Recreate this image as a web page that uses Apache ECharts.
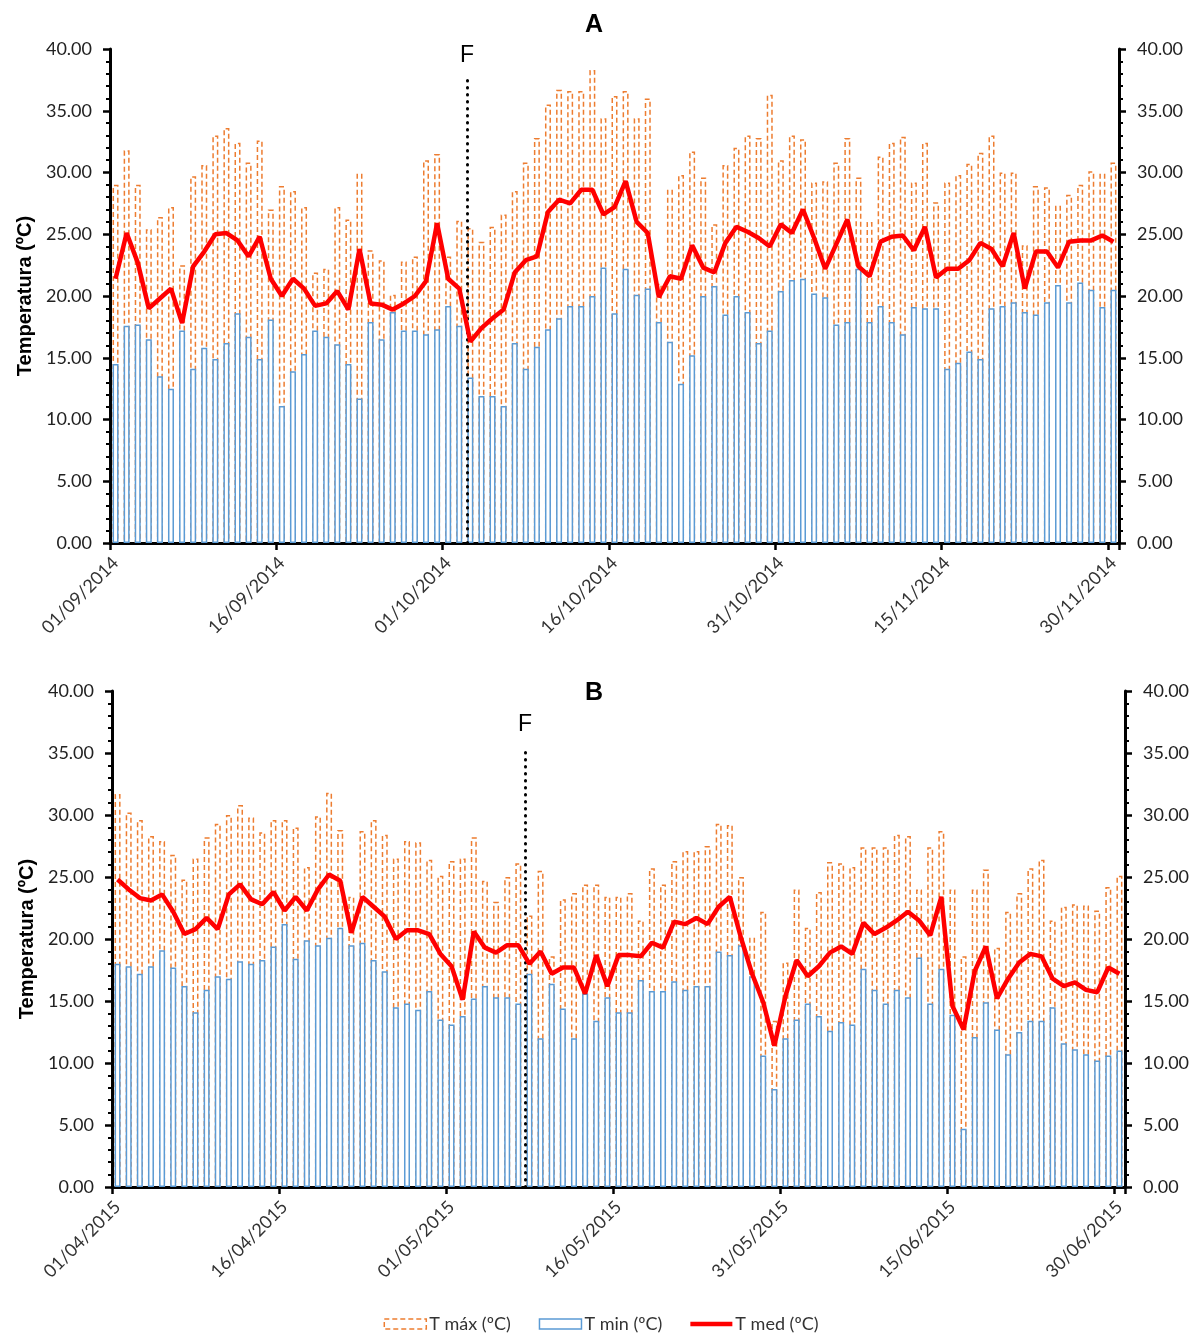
<!DOCTYPE html>
<html>
<head>
<meta charset="UTF-8">
<title>Temperatura</title>
<script src="https://cdn.jsdelivr.net/npm/echarts@6/dist/echarts.min.js"></script>
<style>
body,html{ margin:0; padding:0; background:#fff; }
#chart{ width:1202px; height:1335px; }
</style>
</head>
<body>
<div id="chart"></div>
<script>
// panel A: 01/09/2014 - 30/11/2014, panel B: 01/04/2015 - 30/06/2015
var startA = [2014, 9, 1];
var startB = [2015, 4, 1];
var nDays = 91;
var tickEvery = 15;

var maxA = [29.0,31.8,29.0,25.4,26.4,27.2,22.5,29.7,30.6,33.0,33.6,32.4,30.8,32.6,27.0,28.9,28.5,27.2,21.9,22.2,
  27.2,26.2,29.9,23.7,22.9,20.1,22.8,23.2,31.0,31.5,23.2,26.1,25.5,24.4,25.6,26.6,28.5,30.8,32.8,35.5,
  36.7,36.6,36.6,38.3,34.4,36.2,36.6,34.4,36.0,21.0,28.6,29.8,31.7,29.6,25.8,30.6,32.0,33.0,32.8,36.3,
  31.0,33.0,32.7,29.2,29.3,30.8,32.8,29.6,26.0,31.3,32.4,32.9,29.2,32.4,27.6,29.2,29.8,30.7,31.6,33.0,
  30.0,30.0,24.1,28.9,28.8,27.3,28.2,29.0,30.1,29.9,30.8];
var minA = [14.5,17.6,17.7,16.5,13.5,12.5,17.2,14.1,15.8,14.9,16.2,18.6,16.7,14.9,18.1,11.1,13.9,15.3,17.2,16.7,
  16.1,14.5,11.7,17.9,16.5,18.7,17.2,17.2,16.9,17.3,19.2,17.6,13.4,11.9,11.9,11.1,16.2,14.1,15.9,17.3,
  18.2,19.2,19.2,20.0,22.3,18.6,22.2,20.1,20.6,17.9,16.3,12.9,15.2,20.0,20.8,18.5,20.0,18.7,16.2,17.2,
  20.4,21.3,21.4,20.2,19.9,17.7,17.9,22.2,17.9,19.2,17.9,16.9,19.1,19.0,19.0,14.1,14.6,15.5,14.9,19.0,
  19.2,19.5,18.7,18.5,19.5,20.9,19.5,21.1,20.5,19.1,20.5];
var medA = [21.4,25.1,22.7,19.0,19.8,20.6,17.8,22.4,23.6,25.0,25.1,24.5,23.2,24.8,21.4,20.0,21.4,20.6,19.2,19.4,
  20.4,18.9,23.8,19.4,19.3,18.9,19.4,20.0,21.2,25.9,21.4,20.6,16.3,17.4,18.2,18.9,21.9,22.9,23.2,26.8,
  27.8,27.5,28.6,28.6,26.6,27.2,29.3,26.0,25.1,19.9,21.6,21.4,24.1,22.3,21.9,24.3,25.6,25.2,24.7,24.0,
  25.8,25.1,27.0,24.7,22.2,24.2,26.2,22.4,21.6,24.4,24.8,24.9,23.7,25.6,21.5,22.2,22.2,22.9,24.3,23.8,
  22.4,25.1,20.6,23.6,23.6,22.3,24.4,24.5,24.5,24.9,24.4];

var maxB = [31.7,30.2,29.6,28.3,27.9,26.8,24.8,26.5,28.2,29.3,30.0,30.8,29.8,28.6,29.6,29.6,29.0,25.8,29.9,31.8,
  28.8,23.4,28.7,29.6,28.4,26.5,27.9,27.8,26.4,25.1,26.3,26.5,28.2,24.7,23.0,25.0,26.1,21.9,25.5,18.6,
  23.2,23.7,24.4,24.4,23.4,23.4,23.7,21.5,25.7,24.4,26.3,27.1,27.1,27.5,29.3,29.2,25.0,20.1,22.2,13.4,
  18.1,24.0,20.9,23.8,26.2,26.1,25.8,27.4,27.4,27.4,28.4,28.3,24.0,27.4,28.7,24.0,18.6,24.0,25.6,19.3,
  22.2,23.7,25.7,26.4,21.5,22.6,22.8,22.7,22.3,24.2,25.1];
var minB = [18.0,17.8,17.2,17.8,19.1,17.7,16.2,14.1,15.9,17.0,16.8,18.2,18.0,18.3,19.4,21.2,18.4,19.9,19.5,20.1,
  20.9,19.5,19.7,18.3,17.4,14.5,14.8,14.3,15.8,13.5,13.1,13.8,15.2,16.2,15.3,15.3,14.8,17.2,12.0,16.4,
  14.4,12.0,15.6,13.4,15.3,14.1,14.1,16.7,15.8,15.8,16.6,15.9,16.2,16.2,19.0,18.7,19.5,17.0,10.6,7.9,
  12.0,13.5,14.8,13.8,12.6,13.3,13.1,17.6,15.9,14.8,15.9,15.3,18.5,14.8,17.6,13.9,4.7,12.1,14.9,12.7,
  10.7,12.5,13.4,13.4,14.5,11.6,11.1,10.7,10.2,10.6,11.0];
var medB = [24.8,24.0,23.3,23.1,23.6,22.2,20.4,20.8,21.7,20.8,23.6,24.4,23.2,22.8,23.8,22.3,23.4,22.3,24.0,25.2,
  24.7,20.5,23.4,22.6,21.8,20.0,20.7,20.7,20.4,18.8,17.8,15.1,20.6,19.3,18.9,19.5,19.5,18.0,19.0,17.2,
  17.7,17.7,15.6,18.7,16.2,18.7,18.7,18.6,19.7,19.3,21.4,21.2,21.7,21.2,22.6,23.4,20.1,17.2,14.9,11.4,
  15.4,18.3,17.0,17.8,18.9,19.4,18.8,21.3,20.4,20.9,21.5,22.2,21.5,20.3,23.4,14.6,12.7,17.4,19.4,15.2,
  16.8,18.1,18.8,18.6,16.8,16.2,16.5,15.9,15.7,17.7,17.2];

// "F" marker: position in days from the first day, and height of the dotted line
var fA = [32.2, 37.5];
var fB = [37.1, 35.3];

var names = ['T máx (ºC)', 'T min (ºC)', 'T med (ºC)'];
var yName = 'Temperatura (ºC)';

var cMax = '#ED7D31', cMin = '#5B9BD5', cMed = '#FF0000';
var maxDash = [5, 3];

function dayLabels(s, n) {
    var out = [];
    for (var i = 0; i < n; i++) {
        var d = new Date(Date.UTC(s[0], s[1] - 1, s[2] + i));
        var dd = ('0' + d.getUTCDate()).slice(-2);
        var mm = ('0' + (d.getUTCMonth() + 1)).slice(-2);
        out.push(dd + '/' + mm + '/' + d.getUTCFullYear());
    }
    return out;
}
var catsA = dayLabels(startA, nDays);
var catsB = dayLabels(startB, nDays);

var labelFont = 'Lato';
function everyTick(i) { return i % tickEvery === 0; }

function xCat(g, cats) {
    return {
        type: 'category', gridIndex: g, data: cats, boundaryGap: true,
        axisLine: { show: true, lineStyle: { color: '#000', width: 3 } },
        axisTick: { show: true, interval: everyTick, length: 7, lineStyle: { color: '#000', width: 2.5 } },
        axisLabel: { interval: everyTick, rotate: 45, margin: 17, fontSize: 18, color: '#333', fontFamily: labelFont },
        splitLine: { show: false }
    };
}
function xHidden(g) {
    return { type: 'value', gridIndex: g, min: 0, max: nDays, show: false, position: 'top' };
}
function yAx(g, pos, withName) {
    var a = {
        type: 'value', gridIndex: g, position: pos, min: 0, max: 40, interval: 5,
        axisLine: { show: true, lineStyle: { color: '#000', width: 3 } },
        axisTick: { show: true, length: 7, lineStyle: { color: '#000', width: 2.5 } },
        minorTick: { show: true, splitNumber: 5, length: 4, lineStyle: { color: '#000', width: 2 } },
        splitLine: { show: false },
        minorSplitLine: { show: false },
        axisLabel: { formatter: function (v) { return v.toFixed(2); }, margin: 18, fontSize: 18, color: '#222', fontFamily: labelFont }
    };
    if (withName) {
        a.name = yName;
        a.nameLocation = 'middle';
        a.nameGap = 74;
        a.nameTextStyle = { fontWeight: 'bold', fontSize: 20, color: '#000', fontFamily: 'Liberation Sans' };
    }
    return a;
}

function panelSeries(xi, yi, hx, mx, mn, md, f) {
    return [
        { name: names[0], type: 'bar', xAxisIndex: xi, yAxisIndex: yi, data: mx, barWidth: 6,
          itemStyle: { color: '#fff', borderColor: cMax, borderWidth: 1.5, borderType: maxDash } },
        { name: names[1], type: 'bar', xAxisIndex: xi, yAxisIndex: yi, data: mn, barWidth: 6, barGap: '-100%',
          itemStyle: { color: '#fff', borderColor: cMin, borderWidth: 1.5 } },
        { name: names[2], type: 'line', xAxisIndex: xi, yAxisIndex: yi, data: md, symbol: 'none',
          lineStyle: { color: cMed, width: 4.5 }, itemStyle: { color: cMed }, z: 5 },
        { type: 'line', xAxisIndex: hx, yAxisIndex: yi, data: [], z: 6,
          markLine: {
              silent: true, symbol: 'none',
              lineStyle: { color: '#000', width: 3, type: [0.5, 6.5], cap: 'round' },
              label: { show: true, position: 'end', formatter: 'F', fontSize: 23, color: '#000', fontFamily: 'Liberation Sans', distance: 13 },
              data: [[{ coord: [f[0], 0] }, { coord: [f[0], f[1]] }]]
          } }
    ];
}

var myChart = echarts.init(document.getElementById('chart'));
var option = {
    backgroundColor: '#fff',
    animation: false,
    title: [
        { text: 'A', left: 580, top: 8, textStyle: { fontSize: 25, fontWeight: 'bold', color: '#000', fontFamily: 'Liberation Sans' } },
        { text: 'B', left: 580, top: 676, textStyle: { fontSize: 25, fontWeight: 'bold', color: '#000', fontFamily: 'Liberation Sans' } }
    ],
    legend: {
        left: 'center', top: 1310, itemWidth: 42, itemHeight: 10, itemGap: 28,
        textStyle: { fontSize: 18, color: '#333', fontFamily: labelFont, padding: [0, 0, 0, -2] },
        data: [
            { name: names[0], icon: 'rect', itemStyle: { color: '#fff', borderColor: cMax, borderWidth: 1.5, borderType: [5, 3] } },
            { name: names[1], icon: 'rect', itemStyle: { color: '#fff', borderColor: cMin, borderWidth: 1.5 } },
            { name: names[2], icon: 'path://M0,0 L42,0 L42,4.5 L0,4.5 Z', itemStyle: { color: cMed } }
        ]
    },
    grid: [
        { left: 110, right: 83, top: 49, height: 494 },
        { left: 112, right: 77, top: 691, height: 496 }
    ],
    xAxis: [xCat(0, catsA), xHidden(0), xCat(1, catsB), xHidden(1)],
    yAxis: [yAx(0, 'left', true), yAx(0, 'right', false), yAx(1, 'left', true), yAx(1, 'right', false)],
    series: panelSeries(0, 0, 1, maxA, minA, medA, fA).concat(panelSeries(2, 2, 3, maxB, minB, medB, fB))
};
myChart.setOption(option);
</script>
</body>
</html>
